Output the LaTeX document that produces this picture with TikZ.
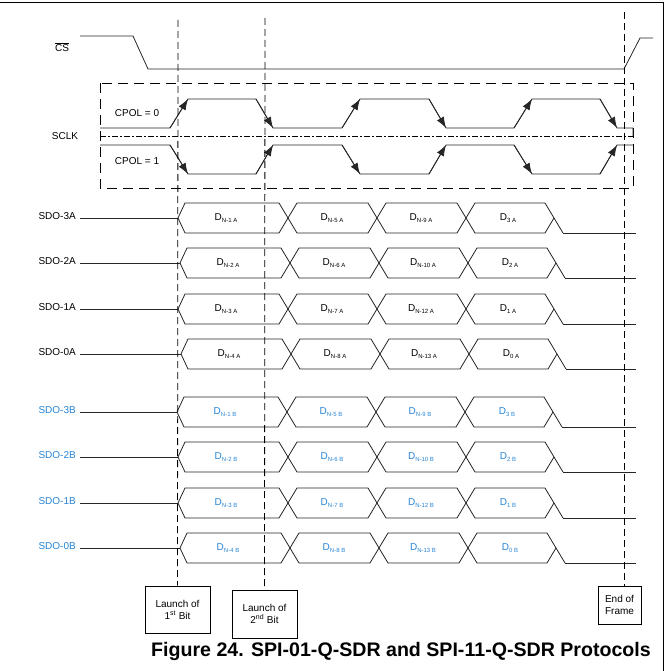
\documentclass[tikz,border=0pt]{standalone}
\usepackage{fontspec}
\setmainfont{Liberation Sans}
\usetikzlibrary{arrows.meta}
\definecolor{tiblue}{RGB}{38,132,214}
\newcommand{\dbit}[1]{D\raisebox{-0.45ex}{\fontsize{6}{7}\selectfont #1}}

\begin{document}
\begin{tikzpicture}[
  x=1pt, y=-1pt,
  every node/.style={font=\fontsize{10}{12}\selectfont, inner sep=0pt},
  wave/.style={line width=0.8pt, black!85},
  edge/.style={wave, -{Latex[length=11pt,width=8pt]}},
  vline/.style={line width=0.8pt, dash pattern=on 7pt off 4pt},
  clkbox/.style={line width=0.8pt, dash pattern=on 10pt off 6pt},
  tag/.style={draw, line width=0.8pt, align=center, inner sep=2pt},
  sig/.style={anchor=east}
]
\useasboundingbox (0,0) rectangle (669,671);
\draw[line width=1pt] (0,3) -- (663,3) -- (663,671);

% chip select
\node (cs) at (62,47) {$\overline{\mbox{CS}}$};
\draw[wave] (80,36) -- (133,36) -- (148,69) -- (624,69) -- (640,38) -- (653,38);

% clock, both polarities
\draw[clkbox] (100,83) rectangle (633,188);
\draw[line width=0.8pt, dash pattern=on 6pt off 2pt on 2pt off 2pt] (100,136) -- (633,136);
\node (sclk) at (65,136) {SCLK};
\node (cpol0) at (137,113) {CPOL = 0};
\node (cpol1) at (137,161) {CPOL = 1};
\draw[wave] (100,128) -- (170,128) -- (188,99) -- (256,99) -- (273,128) -- (342,128) -- (360,99)
  -- (429,99) -- (446,128) -- (514,128) -- (532,99) -- (600,99) -- (617,128) -- (633,128) -- (633,136);
\draw[wave] (100,145) -- (170,145) -- (188,174) -- (256,174) -- (273,145) -- (342,145) -- (360,174)
  -- (429,174) -- (446,145) -- (514,145) -- (532,174) -- (600,174) -- (617,145) -- (633,145);
\foreach \x in {170,342,514} {
  \draw[edge] (\x,128) -- (\x+18,99);
  \draw[edge] (\x,145) -- (\x+18,174);
}
\foreach \x in {256,429,600} {
  \draw[edge] (\x,99) -- (\x+17,128);
  \draw[edge] (\x,174) -- (\x+17,145);
}

% data lanes
\foreach \i/\y/\s/\col/\a/\b/\c/\d in {
  3A/218/0/black/N-1 A/N-5 A/N-9 A/3 A,
  2A/263/2/black/N-2 A/N-6 A/N-10 A/2 A,
  1A/309/0/black/N-3 A/N-7 A/N-12 A/1 A,
  0A/354/3/black/N-4 A/N-8 A/N-13 A/0 A,
  3B/412/-1/tiblue/N-1 B/N-5 B/N-9 B/3 B,
  2B/457/0/tiblue/N-2 B/N-6 B/N-10 B/2 B,
  1B/503/0/tiblue/N-3 B/N-7 B/N-12 B/1 B,
  0B/548/2/tiblue/N-4 B/N-8 B/N-13 B/0 B} {
  \node[sig, text=\col] (sdo\i) at (76,\y-2) {SDO-\i};
  \coordinate (bus\i) at (178+\s,\y);
  \draw[wave] (80,\y) -- (bus\i);
  \begin{scope}[xshift=\s]
    \draw[wave] (178,\y) -- (185,\y-15) -- (279,\y-15) -- (297,\y+15) -- (368,\y+15) -- (386,\y-15)
      -- (457,\y-15) -- (475,\y+15) -- (545,\y+15) -- (554,\y);
    \draw[wave] (178,\y) -- (185,\y+15) -- (279,\y+15) -- (297,\y-15) -- (368,\y-15) -- (386,\y+15)
      -- (457,\y+15) -- (475,\y-15) -- (545,\y-15) -- (563,\y+15);
    \node[text=\col] (d\i-1) at (226,\y) {\dbit{\a}};
    \node[text=\col] (d\i-2) at (332,\y) {\dbit{\b}};
    \node[text=\col] (d\i-3) at (421,\y) {\dbit{\c}};
    \node[text=\col] (d\i-4) at (508,\y) {\dbit{\d}};
  \end{scope}
  \draw[wave] (563+\s,\y+15) -- (636,\y+15);
}

% markers
\node[tag, minimum width=65pt, minimum height=47pt] (launch1) at (177.5,609.5) {Launch of\\1\textsuperscript{st} Bit};
\node[tag, minimum width=65pt, minimum height=48pt] (launch2) at (264.5,614) {Launch of\\2\textsuperscript{nd} Bit};
\node[tag, minimum width=43pt, minimum height=38pt] (eof) at (619.5,605) {End of\\Frame};
\coordinate (t1) at (178,20);
\coordinate (t2) at (265,18);
\coordinate (t3) at (624,12);
\draw[vline] (t1) -- (launch1.north);
\draw[vline] (t2) -- (launch2.north);
\draw[vline] (t3) -- (t3 |- eof.north);

\node[font=\bfseries\fontsize{19.6}{22}\selectfont] (caption) at (401,651) {Figure 24. SPI-01-Q-SDR and SPI-11-Q-SDR Protocols};
\end{tikzpicture}
\end{document}
